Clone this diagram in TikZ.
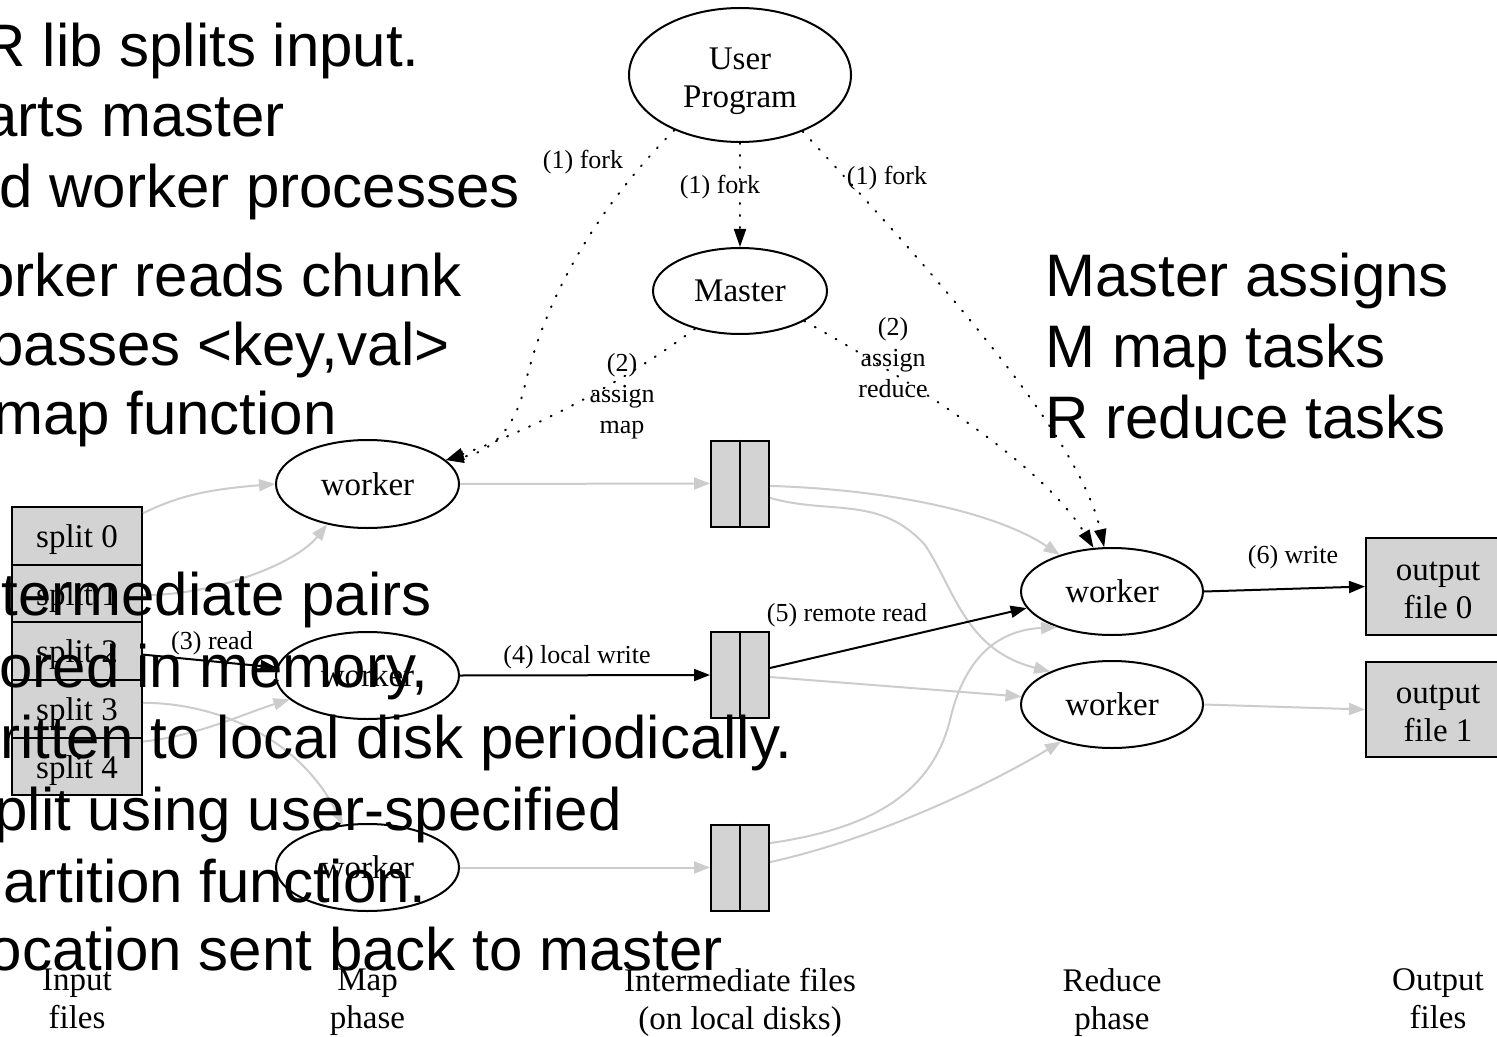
\documentclass[tikz,border=0pt]{standalone}
\usepackage{fontspec}
\setmainfont{Liberation Serif}
\newfontfamily\arialfont{Liberation Sans}
\usetikzlibrary{shapes.geometric,arrows.meta,calc}
\definecolor{boxfill}{RGB}{211,211,211}
\definecolor{edgegray}{RGB}{204,204,204}
\begin{document}
\begin{tikzpicture}[x=0.5pt,y=-0.5pt,
  every node/.style={inner sep=0pt},
  nodefont/.style={font=\fontsize{16.5}{19}\selectfont},
  lblfont/.style={font=\fontsize{13}{15.5}\selectfont},
  bigtext/.style={font=\arialfont\fontsize{30}{35}\selectfont},
  procnode/.style={ellipse, draw, line width=1pt, nodefont, align=center},
  splitbox/.style={rectangle, draw, fill=boxfill, line width=1pt, nodefont, minimum width=65pt, minimum height=28.8pt, text height=15.3pt, text depth=3.6pt},
  interbox/.style={rectangle, draw, fill=boxfill, line width=1pt, minimum width=29pt, minimum height=43pt},
  outbox/.style={rectangle, draw, fill=boxfill, line width=1pt, nodefont, align=center, minimum width=72pt},
  phaselbl/.style={nodefont, align=center, anchor=north},
  grayedge/.style={draw=edgegray, line width=1pt, -{Triangle[length=8pt,width=6pt]}},
  blackedge/.style={draw=black, line width=1pt, -{Triangle[length=8pt,width=6pt]}},
  dotedge/.style={draw=black, line width=1pt, dash pattern=on 0.5pt off 5.5pt, line cap=round, -{Triangle[length=9pt,width=6pt]}}
]
\useasboundingbox (0,0) rectangle (1497,1037);
\fill[white] (0,0) rectangle (1497,1037);
\clip (0,0) rectangle (1497,1037);

% ---- nodes ----
\node[procnode, minimum width=111pt, minimum height=67pt] (up) at (740,75) {\rule{0pt}{17pt}User\\Program};
\node[procnode, minimum width=87pt, minimum height=43pt] (master) at (740,291) {Master};

\node[procnode, minimum width=91.5pt, minimum height=44pt] (mw1) at (367.5,484) {worker};
\node[procnode, minimum width=91.5pt, minimum height=43.5pt] (mw2) at (367.5,675.5) {worker};
\node[procnode, minimum width=91.5pt, minimum height=43.5pt] (mw3) at (367.5,867.5) {worker};

\node[procnode, minimum width=91pt, minimum height=43.5pt] (rw1) at (1112,591.5) {worker};
\node[procnode, minimum width=91pt, minimum height=43.5pt] (rw2) at (1112,704.5) {worker};

\node[splitbox] (s0) at (77,536) {split 0};
\node[splitbox] (s1) at (77,593.6) {split 1};
\node[splitbox] (s2) at (77,651.2) {split 2};
\node[splitbox] (s3) at (77,708.8) {split 3};
\node[splitbox] (s4) at (77,766.4) {split 4};

\node[interbox] (i1) at (740,483.5) {};
\node[interbox] (i2) at (740,675) {};
\node[interbox] (i3) at (740,867.5) {};
\foreach \b in {i1,i2,i3} {\draw[line width=1pt] (\b.north) -- (\b.south);}

\node[outbox, minimum height=48.5pt] (o0) at (1438,586.5) {\rule{0pt}{13pt}output\\file 0};
\node[outbox, minimum height=47.5pt] (o1) at (1438,709.5) {\rule{0pt}{13pt}output\\file 1};

% ---- bottom phase labels ----
\node[phaselbl] (p1) at (77,968) {Input\\files};
\node[phaselbl] (p2) at (367.5,968) {Map\\phase};
\node[phaselbl] (p3) at (740,968) {Intermediate files\\(on local disks)};
\node[phaselbl] (p4) at (1112,968) {Reduce\\phase};
\node[phaselbl] (p5) at (1438,968) {Output\\files};

% ---- dotted control edges ----
\draw[dotedge] (up.south) -- (master.north);
\draw[dotedge] (up.220) .. controls (580,225) and (540,320) .. (525,385) .. controls (515,430) and (490,452) .. (mw1.17);
\draw[dotedge] (master.220) .. controls (620,385) and (530,430) .. (mw1.17);
\draw[dotedge] (up.318) .. controls (950,290) and (1080,440) .. (rw1.100);
\draw[dotedge] (master.335) .. controls (900,375) and (1040,460) .. (rw1.113);

% ---- data edges: input -> map ----
\draw[grayedge] ([yshift=-3.5pt]s0.north east) .. controls (175,498) and (200,490) .. (mw1.west);
\draw[grayedge] ([yshift=-0.7pt]s1.east) .. controls (210,596) and (295,565) .. (mw1.225);
\draw[blackedge] ([yshift=-1.7pt]s2.east) -- (mw2.175);
\draw[grayedge] ([yshift=3pt]s3.east) .. controls (220,703) and (300,740) .. (mw3.120);
\draw[grayedge] ([yshift=-2.5pt]s4.north east) .. controls (200,735) and (240,715) .. (mw2.197);

% ---- map -> intermediate ----
\draw[grayedge] (mw1.east) -- (i1.west);
\draw[blackedge] (mw2.east) -- (i2.west);
\draw[grayedge] (mw3.east) -- (i3.west);

% ---- intermediate -> reduce ----
\draw[grayedge] ([yshift=-1.2pt]i1.east) .. controls (900,490) and (1000,515) .. (rw1.145);
\draw[grayedge] ([yshift=-7.2pt]i1.east) .. controls (830,515) and (880,495) .. (925,545) .. controls (955,590) and (965,650) .. (rw2.152);
\draw[blackedge] ([yshift=3.5pt]i2.east) -- (rw1.191);
\draw[grayedge] ([yshift=-1pt]i2.east) -- (rw2.175);
\draw[grayedge] ([yshift=12.2pt]i3.east) .. controls (860,830) and (930,800) .. (950,720) .. controls (965,655) and (1000,630) .. (rw1.213);
\draw[grayedge] ([yshift=2.7pt]i3.east) .. controls (870,840) and (980,790) .. (rw2.216);

% ---- reduce -> output ----
\draw[blackedge] (rw1.east) -- (o0.west);
\draw[grayedge] (rw2.east) -- (o1.west);

% ---- edge labels ----
\node[lblfont] (lf1) at (583,162) {(1) fork};
\node[lblfont] (lf2) at (720,187) {(1) fork};
\node[lblfont] (lf3) at (887,178) {(1) fork};
\node[lblfont, align=center] (la2) at (622,396) {(2)\\assign\\map};
\node[lblfont, align=center] (lr2) at (893,358) {(2)\\assign\\reduce};
\node[lblfont] (l3) at (212,643) {(3) read};
\node[lblfont] (l4) at (577,657) {(4) local write};
\node[lblfont] (l5) at (847,615) {(5) remote read};
\node[lblfont] (l6) at (1293,557) {(6) write};

% ---- overlaid slide text ----
\node[bigtext, anchor=base east] (t1) at (420,67) {R lib splits input.};
\node[bigtext, anchor=base east] (t2) at (285,137) {arts master};
\node[bigtext, anchor=base east] (t3) at (520,208) {d worker processes};
\node[bigtext, anchor=base east] (t4) at (462,297) {orker reads chunk};
\node[bigtext, anchor=base east] (t5) at (450,365) {passes <key,val>};
\node[bigtext, anchor=base east] (t6) at (337,434) {map function};

\node[bigtext, anchor=base west] (r1) at (1045,297) {Master assigns};
\node[bigtext, anchor=base west] (r2) at (1045,367) {M map tasks};
\node[bigtext, anchor=base west] (r3) at (1045,438) {R reduce tasks};

\node[bigtext, anchor=base east] (b1) at (432,615) {termediate pairs};
\node[bigtext, anchor=base east] (b2) at (429,687) {ored in memory,};
\node[bigtext, anchor=base east] (b3) at (793,758) {ritten to local disk periodically.};
\node[bigtext, anchor=base east] (b4) at (622,830) {plit using user-specified};
\node[bigtext, anchor=base east] (b5) at (427,902) {artition function.};
\node[bigtext, anchor=base east] (b6) at (723,970) {ocation sent back to master};
\end{tikzpicture}
\end{document}
